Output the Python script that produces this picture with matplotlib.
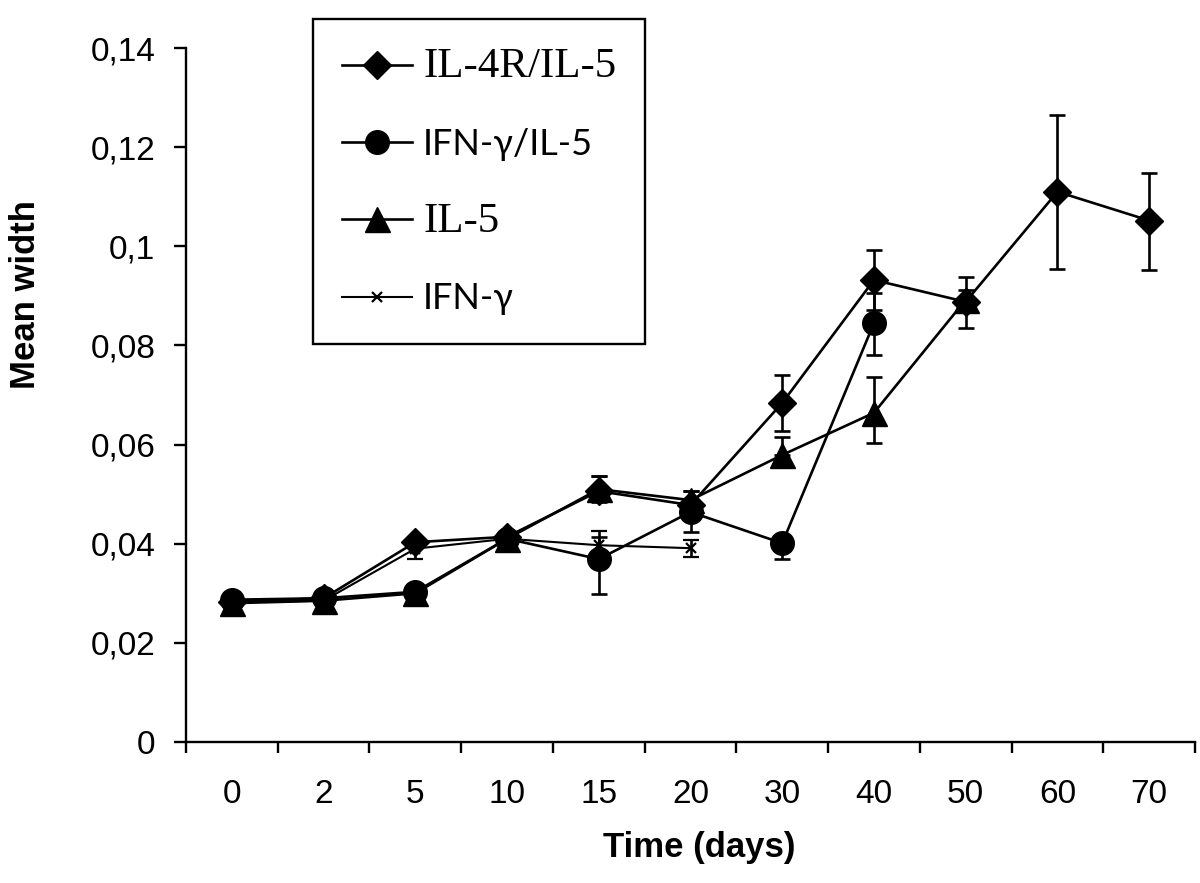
import numpy as np
import matplotlib
matplotlib.use('Agg')
import matplotlib.pyplot as plt
from matplotlib.lines import Line2D

# category axis (days)
days = ['0', '2', '5', '10', '15', '20', '30', '40', '50', '60', '70']

il4r_il5 = [0.0283, 0.0290, 0.0403, 0.0414, 0.0506, 0.0478, 0.0684, 0.0932, 0.0888, 0.1110, 0.1052]
il4r_il5_lo = [0, 0, 0, 0, 0.0022, 0, 0.0056, 0.0060, 0.0052, 0.0155, 0.0100]
il4r_il5_hi = [0, 0, 0, 0, 0.0030, 0, 0.0056, 0.0060, 0.0050, 0.0155, 0.0096]

ifng_il5 = [0.0287, 0.0290, 0.0303, 0.0410, 0.0369, 0.0464, 0.0401, 0.0845]
ifng_il5_lo = [0, 0, 0, 0, 0.0070, 0, 0.0032, 0.0065]
ifng_il5_hi = [0, 0, 0, 0, 0.0045, 0.0042, 0, 0.0060]

il5 = [0.0280, 0.0285, 0.0300, 0.0410, 0.0510, 0.0488, 0.0579, 0.0664, 0.0892]
il5_lo = [0, 0, 0, 0, 0.0024, 0.0064, 0, 0.0060, 0.0018]
il5_hi = [0, 0, 0, 0, 0.0026, 0.0018, 0.0036, 0.0072, 0.0020]

ifng = [0.0282, 0.0285, 0.0390, 0.0410, 0.0397, 0.0391]
ifng_err = [0, 0, 0.0020, 0, 0.0029, 0.0017]

yticks = [0, 0.02, 0.04, 0.06, 0.08, 0.1, 0.12, 0.14]
ytick_labels = ['0', '0,02', '0,04', '0,06', '0,08', '0,1', '0,12', '0,14']

arial = ['Liberation Sans', 'DejaVu Sans']

fig = plt.figure(figsize=(12, 8.83), dpi=100)
ax = fig.add_axes([186 / 1200, 1 - 742 / 883, 1009 / 1200, 694 / 883])

x = np.arange(len(days))
lw = 1.9
eb = dict(ecolor='black', elinewidth=lw, capsize=6, capthick=lw, color='black')

ax.errorbar(x[:len(il4r_il5)], il4r_il5, yerr=[il4r_il5_lo, il4r_il5_hi],
            marker='D', ms=14, lw=lw, zorder=4, **eb)
ax.errorbar(x[:len(ifng_il5)], ifng_il5, yerr=[ifng_il5_lo, ifng_il5_hi],
            marker='o', ms=17, lw=lw, zorder=3, **eb)
ax.errorbar(x[:len(il5)], il5, yerr=[il5_lo, il5_hi],
            marker='^', ms=18, lw=lw, zorder=3, **eb)
ax.errorbar(x[:len(ifng)], ifng, yerr=ifng_err,
            marker='x', ms=7, mew=1.6, lw=1.5, zorder=5, **eb)

ax.set_xlim(-0.5, len(days) - 0.5)
ax.set_ylim(0, 0.14)
ax.set_yticks(yticks)
ax.set_yticklabels(ytick_labels, fontsize=24, family=arial)

# ticks on the category boundaries, labels in the middle
ax.set_xticks(np.arange(len(days) + 1) - 0.5)
ax.set_xticklabels([])
ax.set_xticks(x, minor=True)
ax.set_xticklabels(days, minor=True, fontsize=24, family=arial)
ax.tick_params(axis='x', which='major', direction='out', length=8, width=1.7)
ax.tick_params(axis='x', which='minor', length=0, pad=26.5)
ax.tick_params(axis='y', direction='out', length=8.6, width=1.7, pad=13.5)

for s in ['top', 'right']:
    ax.spines[s].set_visible(False)
for s in ['left', 'bottom']:
    ax.spines[s].set_linewidth(1.7)

ax.set_xlabel('Time (days)', fontsize=25, fontweight='bold', family=arial)
ax.set_ylabel('Mean width', fontsize=25, fontweight='bold', family=arial)
ax.xaxis.set_label_coords(0.509, -0.128)
ax.yaxis.set_label_coords(-0.143, 0.645)

handles = [
    Line2D([], [], color='black', lw=lw, marker='D', ms=14),
    Line2D([], [], color='black', lw=lw, marker='o', ms=17),
    Line2D([], [], color='black', lw=lw, marker='^', ms=18),
    Line2D([], [], color='black', lw=1.5, marker='x', ms=7, mew=1.6),
]
labels = ['IL-4R/IL-5', 'IFN-\u03b3/IL-5', 'IL-5', 'IFN-\u03b3']
leg = ax.legend(handles, labels, loc='upper left',
                bbox_to_anchor=(313 / 1200, 1 - 19 / 883), bbox_transform=fig.transFigure,
                borderaxespad=0, frameon=True, fancybox=False, edgecolor='black',
                framealpha=1, handlelength=1.95, handletextpad=0.3, labelspacing=1.15,
                borderpad=0.8, fontsize=26)
leg.get_frame().set_linewidth(1.7)
serif = ['Liberation Serif', 'DejaVu Serif']
sans = ['Lato', 'DejaVu Sans']
for t, fam in zip(leg.get_texts(), [serif, sans, serif, sans]):
    t.set_family(fam)
leg.get_texts()[0].set_fontsize(31)
leg.get_texts()[2].set_fontsize(31)

fig.savefig('out.png', dpi=100)
